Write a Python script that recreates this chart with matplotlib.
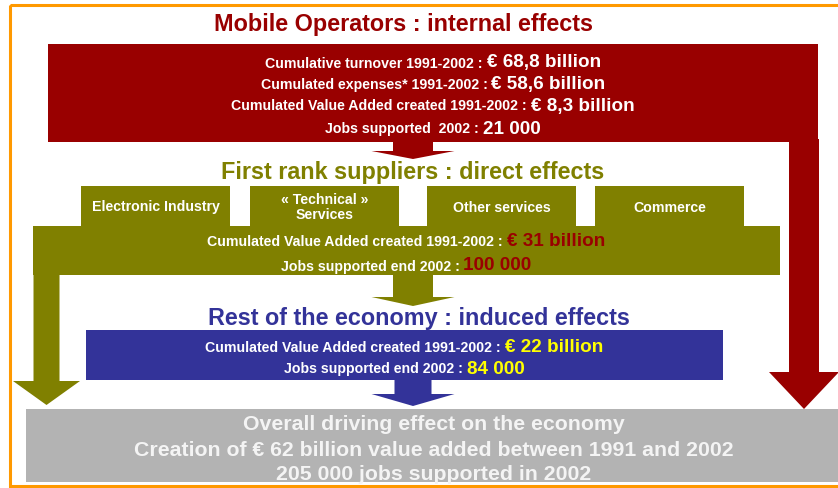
import matplotlib.pyplot as plt
from matplotlib.patches import Polygon, Rectangle
from matplotlib.offsetbox import TextArea, HPacker, AnnotationBbox

plt.rcParams['font.family'] = ['Liberation Sans', 'DejaVu Sans']

# Texts and figures of the diagram
operator_title = "Mobile Operators : internal effects"
operator_labels = ["Cumulative turnover 1991-2002 : ",
                   "Cumulated expenses* 1991-2002 : ",
                   "Cumulated Value Added created 1991-2002 : ",
                   "Jobs supported  2002 : "]
operator_values = ["€ 68,8 billion", "€ 58,6 billion", "€ 8,3 billion", "21 000"]

supplier_title = "First rank suppliers : direct effects"
supplier_sectors = ["Electronic Industry", "« Technical »\nServices",
                    "Other services", "Commerce"]
supplier_labels = ["Cumulated Value Added created 1991-2002 : ",
                   "Jobs supported end 2002 : "]
supplier_values = ["€ 31 billion", "100 000"]

economy_title = "Rest of the economy : induced effects"
economy_labels = ["Cumulated Value Added created 1991-2002 : ",
                  "Jobs supported end 2002 : "]
economy_values = ["€ 22 billion", "84 000"]

overall_lines = ["Overall driving effect on the economy",
                 "Creation of € 62 billion value added between 1991 and 2002",
                 "205 000 jobs supported in 2002"]

RED = "#990000"
OLIVE = "#808000"
NAVY = "#333399"
GREY = "#b3b3b3"
ORANGE = "#ff9900"

TITLE_SIZE = 16.8
LABEL_SIZE = 10.2
VALUE_SIZE = 13.6

fig = plt.figure(figsize=(8.38, 4.89), dpi=100)
ax = fig.add_axes([0, 0, 1, 1])
ax.set_xlim(0, 838)
ax.set_ylim(489, 0)
ax.axis("off")


def poly(points, color):
    ax.add_patch(Polygon(points, closed=True, facecolor=color, edgecolor="none"))


def down_arrow(xc, y0, y1, shaft, head, tip, color):
    # block arrow pointing down: shaft from y0 to y1, head ends at tip
    poly([(xc - shaft / 2, y0), (xc + shaft / 2, y0), (xc + shaft / 2, y1),
          (xc + head / 2, y1), (xc, tip), (xc - head / 2, y1),
          (xc - shaft / 2, y1)], color)


def mixed_line(x, y, label, value, vcolor):
    parts = [TextArea(label, textprops=dict(color="white", fontsize=LABEL_SIZE,
                                            fontweight="bold")),
             TextArea(value, textprops=dict(color=vcolor, fontsize=VALUE_SIZE,
                                            fontweight="bold"))]
    box = HPacker(children=parts, align="baseline", pad=0, sep=0)
    ab = AnnotationBbox(box, (x, y), xycoords="data", frameon=False,
                        box_alignment=(0.5, 0.5), pad=0)
    ax.add_artist(ab)


# frame
ax.add_patch(Rectangle((10, 5.5), 900, 481, facecolor="none",
                       edgecolor=ORANGE, linewidth=2.2))

# grey result box
ax.add_patch(Rectangle((26, 410), 830, 73, facecolor=GREY, edgecolor="none"))

# mobile operators block + long right arrow
ax.add_patch(Rectangle((48, 45), 770, 98, facecolor=RED, edgecolor="none"))
down_arrow(804, 140, 373, 30, 70, 410, RED)
down_arrow(413, 140, 152, 40, 83, 160, RED)
ax.text(403, 25, operator_title, color=RED, fontsize=TITLE_SIZE, fontweight="bold",
        ha="center", va="center")
for yy, lab, val in zip([63, 84, 106, 129], operator_labels, operator_values):
    mixed_line(433, yy, lab, val, "white")

# suppliers block: tabs, bar, left arrow, middle arrow
tab_x = [81, 250, 427, 595]
tab_w = 149
for tx, name in zip(tab_x, supplier_sectors):
    ax.add_patch(Rectangle((tx, 187), tab_w, 42, facecolor=OLIVE, edgecolor="none"))
    ax.text(tx + tab_w / 2, 207.5, name, color="white", fontsize=LABEL_SIZE,
            fontweight="bold", ha="center", va="center", linespacing=1.1)
ax.add_patch(Rectangle((33, 227), 747, 49, facecolor=OLIVE, edgecolor="none"))
down_arrow(46.5, 272, 382, 26, 67, 406, OLIVE)
down_arrow(413, 272, 298, 40, 83, 307, OLIVE)
ax.text(413, 173, supplier_title, color=OLIVE, fontsize=TITLE_SIZE, fontweight="bold",
        ha="center", va="center")
for yy, lab, val in zip([242, 266], supplier_labels, supplier_values):
    mixed_line(406, yy, lab, val, RED)

# rest of economy block
ax.add_patch(Rectangle((86, 331), 637, 50, facecolor=NAVY, edgecolor="none"))
down_arrow(413, 378, 395, 37, 83, 407, NAVY)
ax.text(419, 318, economy_title, color=NAVY, fontsize=TITLE_SIZE, fontweight="bold",
        ha="center", va="center")
for yy, lab, val in zip([347, 369], economy_labels, economy_values):
    mixed_line(404, yy, lab, val, "#ffff00")

# overall effect text
for yy, line in zip([424, 450, 475], overall_lines):
    ax.text(434, yy, line, color="#f4f4f4", fontsize=15.3, fontweight="bold",
            ha="center", va="center")

fig.savefig("out.png", dpi=100)
